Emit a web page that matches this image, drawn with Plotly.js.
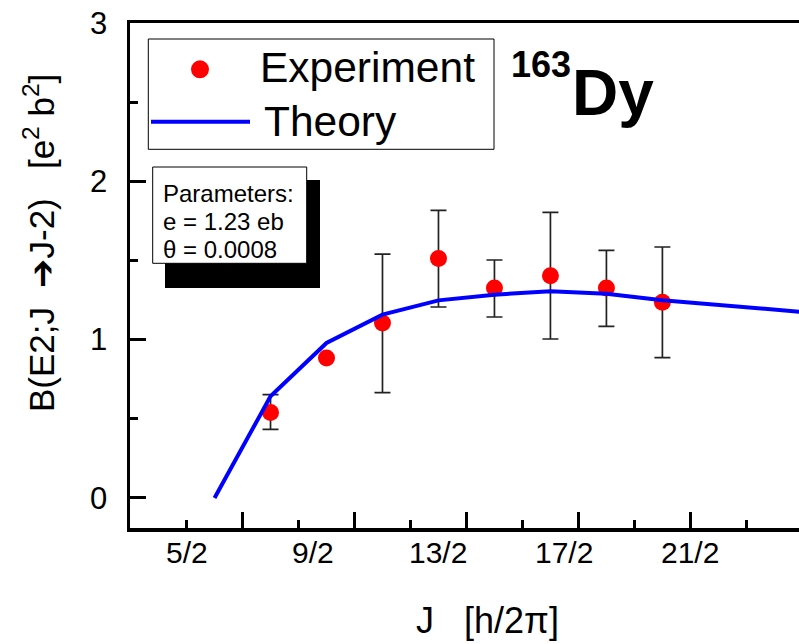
<!DOCTYPE html>
<html><head><meta charset="utf-8">
<script src="https://cdn.plot.ly/plotly-3.0.1.min.js"></script>
<style>html,body{margin:0;padding:0;background:#fff}#chart{width:799px;height:644px}</style>
</head><body><div id="chart"></div>
<script>
// ---- data ----
const expJ = [3.5, 4.5, 5.5, 6.5, 7.5, 8.5, 9.5, 10.5];
const expB = [0.54, 0.884, 1.105, 1.513, 1.326, 1.404, 1.326, 1.236];
const expErrPlus  = [0.113, 0, 0.435, 0.303, 0.177, 0.40, 0.238, 0.349];
const expErrMinus = [0.107, 0, 0.44, 0.307, 0.183, 0.40, 0.242, 0.35];
const theoryJ = [2.5, 3.5, 4.5, 5.5, 6.5, 7.5, 8.5, 9.5, 10.5, 11.5, 12.5, 13.5];
const theoryB = [0, 0.642, 0.979, 1.158, 1.248, 1.284, 1.305, 1.29, 1.248, 1.218, 1.19, 1.16];
const xLabelVals = [2, 4.25, 6.5, 8.75, 11];
const xLabelText = ['5/2', '9/2', '13/2', '17/2', '21/2'];
const xMajorTicks = [3, 5, 7, 9, 11];
const xMinorTicks = [2, 4, 6, 8, 10, 12];
const yTickVals = [0, 1, 2, 3];
const paramLines = ['Parameters:', 'e = 1.23 eb', 'θ = 0.0008'];

// ---- layout helpers ----
const FW = 799, FH = 644, ML = 130, MT = 23, MR = 0, MB = 116;
const PW = FW - ML - MR, PH = FH - MT - MB;
const px = p => (p - ML) / PW;
const py = p => (FH - MB - p) / PH;
const FONT = 'Liberation Sans, Arial, sans-serif';

const traces = [
  {
    x: expJ, y: expB, type: 'scatter', mode: 'markers', name: 'Experiment',
    marker: {color: '#ff0000', size: 17},
    error_y: {type: 'data', symmetric: false, array: expErrPlus, arrayminus: expErrMinus,
              color: '#222222', thickness: 1.7, width: 8},
    showlegend: false
  },
  {
    x: theoryJ, y: theoryB, type: 'scatter', mode: 'lines', name: 'Theory',
    line: {color: '#0000ff', width: 4}, showlegend: false
  }
];

const annotations = [
  {xref: 'paper', yref: 'paper', x: px(258), y: py(68), xanchor: 'left', yanchor: 'middle',
   text: 'Experiment', showarrow: false, font: {size: 42.5, family: FONT}},
  {xref: 'paper', yref: 'paper', x: px(262), y: py(122), xanchor: 'left', yanchor: 'middle',
   text: 'Theory', showarrow: false, font: {size: 42.5, family: FONT}},
  {xref: 'paper', yref: 'paper', x: px(509), y: py(65), xanchor: 'left', yanchor: 'middle',
   text: '<b>163</b>', showarrow: false, font: {size: 36, family: FONT}},
  {xref: 'paper', yref: 'paper', x: px(570), y: py(93), xanchor: 'left', yanchor: 'middle',
   text: '<b>Dy</b>', showarrow: false, font: {size: 64, family: FONT}},
  {xref: 'paper', yref: 'paper', x: px(488), y: py(620), xanchor: 'center', yanchor: 'middle',
   text: 'J   [h/2π]', showarrow: false, font: {size: 36, family: FONT}},
  {xref: 'paper', yref: 'paper', x: px(39), y: py(243), xanchor: 'center', yanchor: 'middle', textangle: -90,
   text: 'B(E2;J  ➔J-2)   [e<sup>2</sup> b<sup>2</sup>]', showarrow: false, font: {size: 35, family: FONT}}
];
const paramY = [194, 221.5, 249.5];
paramLines.forEach((t, i) => annotations.push(
  {xref: 'paper', yref: 'paper', x: px(161), y: py(paramY[i]), xanchor: 'left', yanchor: 'middle',
   text: t, showarrow: false, font: {size: 24, family: FONT}}));
xLabelVals.forEach((v, i) => annotations.push(
  {xref: 'x', yref: 'paper', x: v, y: py(552), xanchor: 'center', yanchor: 'middle',
   text: xLabelText[i], showarrow: false, font: {size: 30, family: FONT}}));

const layout = {
  width: FW, height: FH,
  margin: {l: ML, t: MT, r: MR, b: MB},
  paper_bgcolor: '#ffffff', plot_bgcolor: '#ffffff',
  font: {family: FONT, color: '#000'},
  showlegend: false,
  xaxis: {
    range: [0.99, 12.94], showgrid: false, zeroline: false,
    showline: true, linecolor: '#000', linewidth: 3.5, mirror: true,
    showticklabels: false,
    tickvals: xMajorTicks, ticks: 'inside', ticklen: 16, tickwidth: 3, tickcolor: '#000',
    minor: {tickvals: xMinorTicks, ticks: 'inside', ticklen: 8, tickwidth: 3, tickcolor: '#000'}
  },
  yaxis: {
    range: [-0.19, 3.0], showgrid: false, zeroline: false,
    showline: true, linecolor: '#000', linewidth: 3.5,
    tickvals: yTickVals, ticks: 'inside', ticklen: 16, tickwidth: 3, tickcolor: '#000',
    minor: {dtick: 0.5, ticks: 'inside', ticklen: 8, tickwidth: 3, tickcolor: '#000'},
    tickfont: {size: 31, family: FONT}, ticklabelstandoff: 13
  },
  shapes: [
    {type: 'rect', xref: 'paper', yref: 'paper', x0: px(148.3), x1: px(494), y0: py(149.3), y1: py(39),
     line: {color: '#000', width: 1}, fillcolor: 'rgba(255,255,255,0)', layer: 'above'},
    {type: 'circle', xref: 'paper', yref: 'paper', x0: px(191), x1: px(209), y0: py(78.3), y1: py(60.3),
     line: {width: 0}, fillcolor: '#ff0000', layer: 'above'},
    {type: 'line', xref: 'paper', yref: 'paper', x0: px(151), x1: px(250), y0: py(121.7), y1: py(121.7),
     line: {color: '#0000ff', width: 4}, layer: 'above'},
    {type: 'rect', xref: 'paper', yref: 'paper', x0: px(165), x1: px(320), y0: py(288), y1: py(180),
     line: {width: 0}, fillcolor: '#000', layer: 'above'},
    {type: 'rect', xref: 'paper', yref: 'paper', x0: px(152.7), x1: px(306.7), y0: py(263.3), y1: py(167),
     line: {color: '#000', width: 1}, fillcolor: '#fff', layer: 'above'}
  ],
  annotations: annotations
};

Plotly.newPlot('chart', traces, layout, {staticPlot: true, displayModeBar: false});
</script>
</body></html>
